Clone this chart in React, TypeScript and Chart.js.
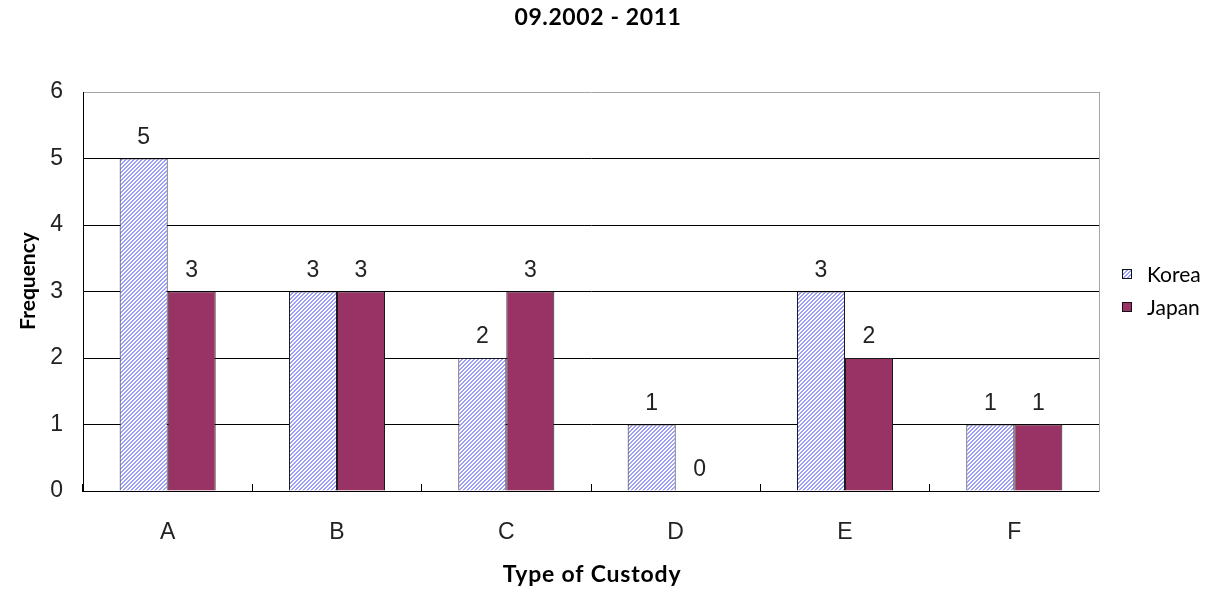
import { useEffect, useRef } from "react";
import { Chart, registerables } from "chart.js";

Chart.register(...registerables);

// Frequencies by type of custody
const categories = ["A", "B", "C", "D", "E", "F"];
const koreaValues = [5, 3, 2, 1, 3, 1];
const japanValues = [3, 3, 3, 0, 2, 1];
const seriesNames = ["Korea", "Japan"];
const yMin = 0;
const yMax = 6;

const chartTitle = "09.2002 - 2011";
const xAxisTitle = "Type of Custody";
const yAxisTitle = "Frequency";

const JAPAN_COLOR = "#993366";
const GRID_COLOR = "#000000";
const FRAME_COLOR = "#a6a6a6";
const NUM_FONT = '"Liberation Sans", Arial, sans-serif';

// Diagonal "/" hatch used for the Korea bars
function makeHatch(): CanvasPattern | string {
  const c = document.createElement("canvas");
  c.width = 4;
  c.height = 4;
  const g = c.getContext("2d");
  if (!g) return "#a0a0fa";
  g.fillStyle = "#ffffff";
  g.fillRect(0, 0, 4, 4);
  g.fillStyle = "#9d9dfa";
  for (let y = 0; y < 4; y++) {
    for (let x = 0; x < 4; x++) {
      const k = (x + y) % 4;
      if (k === 0 || k === 1) g.fillRect(x, y, 1, 1);
    }
  }
  return g.createPattern(c, "repeat") || "#a0a0fa";
}

const decorPlugin = {
  id: "decor",
  afterDatasetsDraw(chart: any) {
    const ctx: any = chart.ctx;
    const area = chart.chartArea;
    ctx.save();

    // value labels above each bar
    ctx.font = `23px ${NUM_FONT}`;
    ctx.fillStyle = "#222222";
    ctx.textAlign = "center";
    ctx.textBaseline = "alphabetic";
    chart.data.datasets.forEach((ds: any, i: number) => {
      const meta = chart.getDatasetMeta(i);
      meta.data.forEach((bar: any, j: number) => {
        ctx.fillText(String(ds.data[j]), bar.x, bar.y - 15);
      });
    });

    // chart title
    ctx.fillStyle = "#000000";
    ctx.font = 'bold 23px Lato, "Open Sans", sans-serif';
    ctx.letterSpacing = "0.6px";
    ctx.fillText(chartTitle, 598, 25);

    // x axis title
    ctx.letterSpacing = "0.8px";
    ctx.fillText(xAxisTitle, (area.left + area.right) / 2 + 1, 582);
    ctx.letterSpacing = "0px";

    // y axis title (rotated)
    ctx.font = 'bold 21px Lato, "Open Sans", sans-serif';
    ctx.save();
    ctx.translate(35, 281);
    ctx.rotate(-Math.PI / 2);
    ctx.fillText(yAxisTitle, 0, 0);
    ctx.restore();

    // legend
    ctx.font = '21px Lato, "Open Sans", sans-serif';
    ctx.textAlign = "left";
    const rowsY = [274, 307];
    chart.data.datasets.forEach((ds: any, i: number) => {
      const cy = rowsY[i];
      ctx.fillStyle = ds.backgroundColor;
      ctx.fillRect(1122, cy - 5, 10, 10);
      ctx.strokeStyle = "#111111";
      ctx.lineWidth = 1;
      ctx.strokeRect(1122.5, cy - 4.5, 9, 9);
      ctx.fillStyle = "#000000";
      ctx.fillText(ds.label, 1147, cy + 7.5);
    });

    ctx.restore();
  },
};

export default function App() {
  const canvasRef = useRef<HTMLCanvasElement | null>(null);

  useEffect(() => {
    const canvas = canvasRef.current;
    if (!canvas) return;
    const hatch = makeHatch();

    const chart = new Chart(canvas, {
      type: "bar",
      data: {
        labels: categories,
        datasets: [
          {
            label: seriesNames[0],
            data: koreaValues,
            backgroundColor: hatch as any,
            borderColor: "#1a1a1a",
            borderWidth: 1,
            categoryPercentage: 0.567,
            barPercentage: 1,
          },
          {
            label: seriesNames[1],
            data: japanValues,
            backgroundColor: JAPAN_COLOR,
            borderColor: "#1a1a1a",
            borderWidth: 1,
            categoryPercentage: 0.567,
            barPercentage: 1,
          },
        ],
      },
      options: {
        responsive: false,
        animation: false,
        devicePixelRatio: 1,
        layout: { padding: { top: 92, left: 0, right: 0, bottom: 0 } },
        plugins: {
          legend: { display: false },
          title: { display: false },
          tooltip: { enabled: false },
        },
        scales: {
          x: {
            type: "category",
            offset: true,
            grid: {
              display: true,
              offset: true,
              drawOnChartArea: false,
              drawTicks: true,
              tickLength: -7,
              color: GRID_COLOR,
              tickColor: GRID_COLOR,
            },
            border: { display: true, color: GRID_COLOR, width: 1 },
            ticks: {
              color: "#222222",
              font: { family: NUM_FONT, size: 23 },
              padding: 35,
              maxRotation: 0,
            },
            afterFit: (scale: any) => {
              scale.height = 99;
            },
          },
          y: {
            type: "linear",
            min: yMin,
            max: yMax,
            position: "left",
            grid: {
              display: true,
              drawTicks: false,
              color: (c: any) => (c.tick && c.tick.value === yMax ? FRAME_COLOR : GRID_COLOR),
            },
            border: { display: true, color: GRID_COLOR, width: 1 },
            ticks: {
              stepSize: 1,
              color: "#222222",
              font: { family: NUM_FONT, size: 23 },
              padding: 20,
            },
            afterFit: (scale: any) => {
              scale.width = 83;
            },
          },
          yRight: {
            type: "linear",
            min: yMin,
            max: yMax,
            position: "right",
            grid: { display: true, drawOnChartArea: false, drawTicks: false },
            border: { display: true, color: FRAME_COLOR, width: 1 },
            ticks: { display: false },
            afterFit: (scale: any) => {
              scale.width = 116;
            },
          },
        },
      },
      plugins: [decorPlugin],
    });

    return () => {
      chart.destroy();
    };
  }, []);

  return (
    <div style={{ position: "absolute", left: 0, top: 0, width: 1215, height: 590, background: "#ffffff" }}>
      <canvas ref={canvasRef} width={1215} height={590} style={{ display: "block" }} />
    </div>
  );
}
